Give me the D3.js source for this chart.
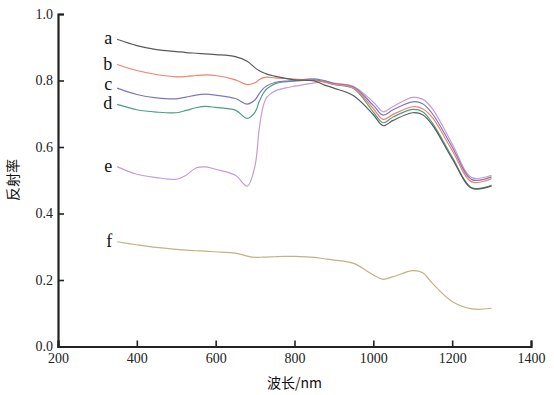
<!DOCTYPE html>
<html>
<head>
<meta charset="utf-8">
<script src="https://cdn.jsdelivr.net/npm/d3@7"></script>
<style>
  body { margin: 0; background: #fff; }
  svg { display: block; }
  .tick text { font-family: "Liberation Serif", "DejaVu Serif", serif; font-size: 14px; fill: #222; }
</style>
</head>
<body>
<div id="chart"></div>
<script>
// 波长 (nm)
var wavelength = [350, 400, 450, 500, 525, 550, 575, 600, 650, 680, 700, 710, 720, 730, 750,
                  775, 800, 850, 875, 900, 950, 1000, 1025, 1050, 1100, 1125, 1150, 1200, 1250, 1300];

// 反射率
var seriesA = [0.924, 0.905, 0.893, 0.887, 0.884, 0.882, 0.880, 0.878, 0.872, 0.858, 0.838, 0.830, 0.824, 0.819, 0.813,
               0.807, 0.802, 0.799, 0.787, 0.777, 0.754, 0.697, 0.664, 0.680, 0.703, 0.697, 0.666, 0.565, 0.476, 0.483];
var seriesB = [0.848, 0.830, 0.818, 0.811, 0.812, 0.815, 0.817, 0.815, 0.802, 0.788, 0.793, 0.802, 0.808, 0.810, 0.808,
               0.806, 0.804, 0.800, 0.795, 0.788, 0.777, 0.715, 0.683, 0.698, 0.721, 0.715, 0.688, 0.590, 0.495, 0.505];
var seriesC = [0.777, 0.758, 0.748, 0.745, 0.750, 0.756, 0.759, 0.756, 0.746, 0.729, 0.742, 0.760, 0.775, 0.784, 0.794,
               0.798, 0.800, 0.805, 0.800, 0.791, 0.780, 0.725, 0.696, 0.712, 0.736, 0.730, 0.700, 0.600, 0.502, 0.510];
var seriesD = [0.728, 0.712, 0.705, 0.703, 0.710, 0.718, 0.722, 0.719, 0.711, 0.686, 0.705, 0.735, 0.760, 0.775, 0.790,
               0.796, 0.798, 0.802, 0.797, 0.788, 0.776, 0.705, 0.673, 0.690, 0.713, 0.706, 0.672, 0.570, 0.477, 0.485];
var seriesE = [0.541, 0.518, 0.508, 0.503, 0.515, 0.537, 0.540, 0.533, 0.515, 0.482, 0.545, 0.650, 0.720, 0.750, 0.768,
               0.777, 0.783, 0.793, 0.798, 0.792, 0.782, 0.735, 0.706, 0.722, 0.749, 0.744, 0.715, 0.610, 0.508, 0.515];
var seriesF = [0.315, 0.306, 0.298, 0.292, 0.290, 0.288, 0.287, 0.285, 0.281, 0.272, 0.268, 0.268, 0.269, 0.269, 0.270,
               0.271, 0.271, 0.268, 0.264, 0.260, 0.250, 0.215, 0.202, 0.210, 0.228, 0.222, 0.190, 0.135, 0.113, 0.115];

var names = ["a", "b", "c", "d", "e", "f"];
var colors = ["#5a5a5a", "#f2806e", "#7c79bb", "#4f9d87", "#c79bd2", "#bfb387"];
var values = [seriesA, seriesB, seriesC, seriesD, seriesE, seriesF];

var xTicks = [200, 400, 600, 800, 1000, 1200, 1400];
var yTicks = [0.0, 0.2, 0.4, 0.6, 0.8, 1.0];

var width = 554;
var height = 395;
var plotLeft = 58, plotRight = 531, plotTop = 14, plotBottom = 346.5;
var size_font = 18;

var svg = d3.select("#chart")
    .append("svg")
    .attr("width", width)
    .attr("height", height);

// スケール
var xScale = d3.scaleLinear()
    .domain([200, 1400])
    .range([plotLeft, plotRight]);

var yScale = d3.scaleLinear()
    .domain([0, 1])
    .range([plotBottom, plotTop]);

// 線
var line = d3.line()
    .x(function (d) { return xScale(d[0]); })
    .y(function (d) { return yScale(d[1]); })
    .curve(d3.curveCatmullRom.alpha(0.5));

// f が一番下になるように逆順で描く
for (var k = values.length - 1; k >= 0; k--) {
    var pts = wavelength.map(function (w, i) { return [w, values[k][i]]; });
    svg.append("path")
        .datum(pts)
        .attr("d", line)
        .attr("fill", "none")
        .attr("stroke", colors[k])
        .attr("stroke-width", 1.2);
}

// 系列ラベル (c と d が重ならないように c を少し上へ)
svg.append("g")
    .selectAll("text")
    .data(names)
    .enter()
    .append("text")
    .text(function (d) { return d; })
    .attr("x", xScale(wavelength[0]) - 5)
    .attr("y", function (d, i) {
        return yScale(values[i][0]) + (d == "c" ? -3 : 0);
    })
    .attr("dy", "0.28em")
    .attr("text-anchor", "end")
    .style("font-family", "'Liberation Serif', 'DejaVu Serif', serif")
    .style("font-size", size_font + "px")
    .style("fill", "#111");

// X 軸
var xAxis = d3.axisTop(xScale)
    .tickValues(xTicks)
    .tickSize(6)
    .tickFormat(d3.format("d"));

var gx = svg.append("g")
    .attr("transform", "translate(0," + plotBottom + ")")
    .call(xAxis);
gx.select(".domain").attr("stroke", "#222").attr("stroke-width", 2.2);
gx.selectAll(".tick line").attr("stroke", "#222").attr("stroke-width", 1.6);
gx.selectAll(".tick text").attr("y", 16).attr("dy", "0em");

// Y 軸
var yAxis = d3.axisRight(yScale)
    .tickValues(yTicks)
    .tickSize(6)
    .tickFormat(d3.format(".1f"));

var gy = svg.append("g")
    .attr("transform", "translate(" + plotLeft + ",0)")
    .call(yAxis);
gy.select(".domain").attr("stroke", "#222").attr("stroke-width", 2.2);
gy.selectAll(".tick line").attr("stroke", "#222").attr("stroke-width", 1.6);
gy.selectAll(".tick text")
    .attr("x", -5)
    .attr("text-anchor", "end");

// 軸ラベル
svg.append("text")
    .text("波长/nm")
    .attr("x", (plotLeft + plotRight) / 2)
    .attr("y", 388)
    .attr("text-anchor", "middle")
    .style("font-family", "'Noto Sans CJK SC', sans-serif")
    .style("font-size", "14px")
    .style("fill", "#111");

svg.append("text")
    .text("反射率")
    .attr("transform", "translate(18," + 180 + ") rotate(-90)")
    .attr("text-anchor", "middle")
    .style("font-family", "'Noto Sans CJK SC', sans-serif")
    .style("font-size", "14px")
    .style("fill", "#111");
</script>
</body>
</html>
